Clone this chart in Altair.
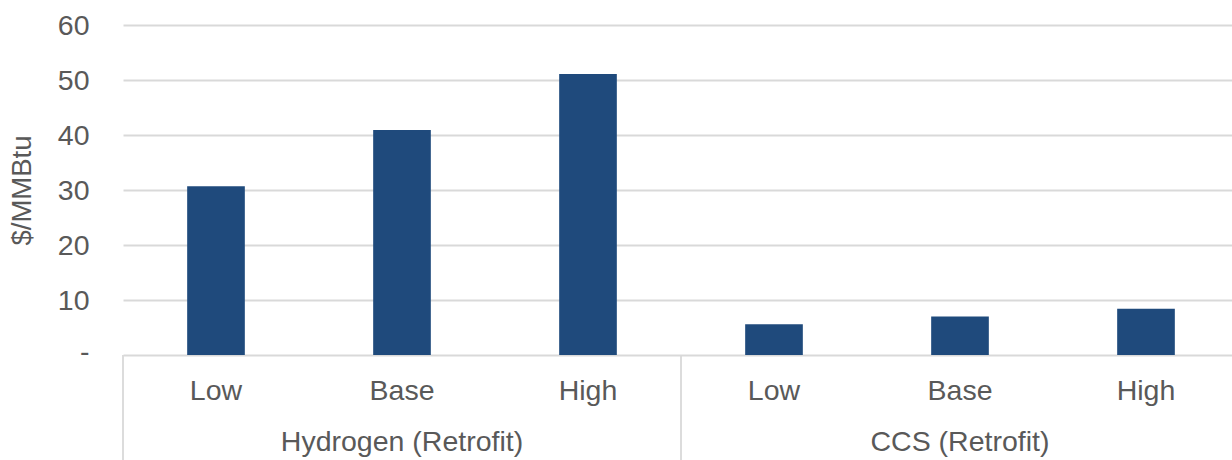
import altair as alt
import pandas as pd

# Levelised cost scenarios by retrofit technology
groups = ["Hydrogen (Retrofit)", "CCS (Retrofit)"]
levels = ["Low", "Base", "High"]
hydrogen_values = [30.7, 40.9, 51.1]
ccs_values = [5.6, 7.0, 8.4]
y_ticks = [0, 10, 20, 30, 40, 50, 60]

rows = []
for g, vals in zip(groups, [hydrogen_values, ccs_values]):
    for lvl, v in zip(levels, vals):
        rows.append({"group": g, "level": lvl, "key": f"{g}|{lvl}", "value": v})
bars_df = pd.DataFrame(rows)
key_order = list(bars_df["key"])

# group boundaries and group label positions on a 0..n_groups axis
bounds_df = pd.DataFrame({"pos": list(range(len(groups) + 1))})
labels_df = pd.DataFrame({"group": groups, "pos": [i + 0.5 for i in range(len(groups))]})

W, H = 1109, 330
RANGE = [0, 1116]
TEXT = "#595959"
GRID = "#D9D9D9"
FONT = "Liberation Sans"
FS = 28.5

bars = alt.Chart(bars_df).mark_bar(color="#1F4A7C").encode(
    x=alt.X(
        "key:N",
        sort=key_order,
        scale=alt.Scale(range=RANGE, paddingInner=0.69, paddingOuter=0.345),
        axis=alt.Axis(
            title=None,
            labelExpr="replace(datum.label, regexp('^.*[|]'), '')",
            labelAngle=0,
            labelBaseline="alphabetic",
            labelPadding=44,
            ticks=False,
            tickSize=0,
            domain=False,
            labelFont=FONT,
            labelFontSize=FS,
            labelColor=TEXT,
        ),
    ),
    y=alt.Y(
        "value:Q",
        scale=alt.Scale(domain=[0, 60], nice=False, zero=True),
        axis=alt.Axis(
            title="$/MMBtu",
            values=y_ticks,
            labelExpr="datum.value == 0 ? '-' : datum.label",
            labelOffset={"condition": {"test": "datum.value == 0", "value": -4}, "value": 0},
            grid=True,
            gridColor=GRID,
            gridWidth=1.8,
            domain=False,
            ticks=False,
            tickSize=0,
            labelPadding=34,
            labelFont=FONT,
            labelFontSize=FS,
            labelColor=TEXT,
            titleFont=FONT,
            titleFontSize=27.5,
            titleFontWeight="normal",
            titleColor=TEXT,
            titleAngle=-90,
            titleX=-93,
            titleY=H / 2,
            titleAlign="center",
            titleBaseline="alphabetic",
        ),
    ),
)

seps = alt.Chart(bounds_df).mark_rule(color=GRID, strokeWidth=1.8).encode(
    x=alt.X("pos:Q", scale=alt.Scale(domain=[0, len(groups)], range=RANGE, nice=False, zero=False), axis=None),
    y=alt.value(H),
    y2=alt.value(H + 110),
)

group_text = alt.Chart(labels_df).mark_text(
    font=FONT, fontSize=FS, color=TEXT, baseline="alphabetic", align="center"
).encode(
    x=alt.X("pos:Q", scale=alt.Scale(domain=[0, len(groups)], range=RANGE, nice=False, zero=False), axis=None),
    y=alt.value(H + 96),
    text="group:N",
)

chart = (
    alt.layer(bars, seps, group_text)
    .resolve_scale(x="independent")
    .resolve_axis(x="independent")
    .properties(
        width=W,
        height=H,
        autosize=alt.AutoSizeParams(type="none"),
        padding={"left": 123, "top": 25, "right": 0, "bottom": 105},
        background="white",
    )
    .configure_view(stroke=None)
)

chart.save("out.html", embed_options={"renderer": "svg", "actions": False})
